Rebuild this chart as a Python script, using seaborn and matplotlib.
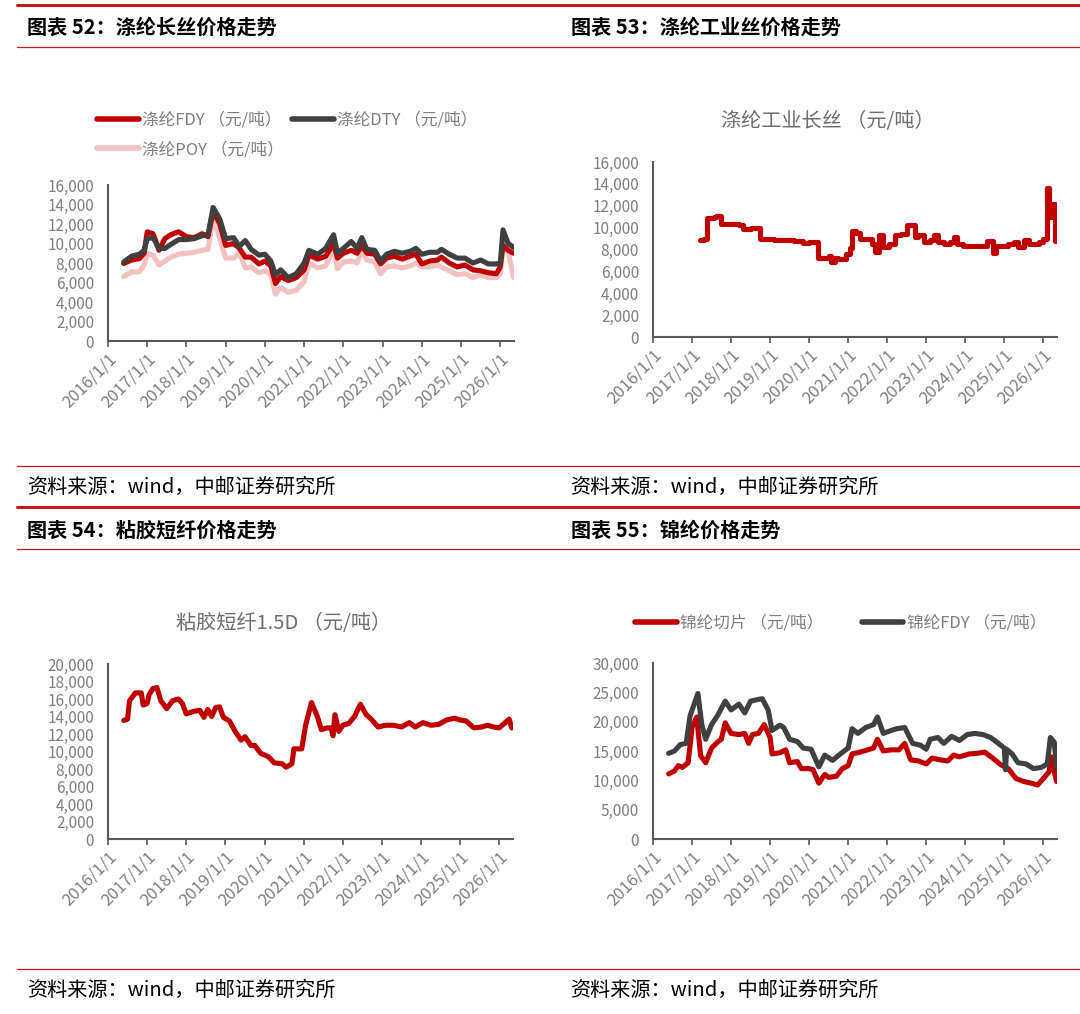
import pandas as pd
import seaborn as sns
import matplotlib.pyplot as plt
from matplotlib.lines import Line2D
from matplotlib.ticker import FuncFormatter, MultipleLocator

sns.set_theme(style="white")
plt.rcParams['font.family'] = ['Noto Sans CJK SC', 'DejaVu Sans']

# ---- data (x in decimal years) ----
years = list(range(2016, 2027))
year_labels = [f"{y}/1/1" for y in years]

x52 = [2016.4, 2016.6, 2016.8, 2016.92, 2017.0, 2017.15, 2017.3, 2017.45, 2017.6, 2017.8,
       2018.0, 2018.2, 2018.4, 2018.55, 2018.68, 2018.85, 2019.0, 2019.2, 2019.35, 2019.5,
       2019.65, 2019.85, 2020.0, 2020.15, 2020.27, 2020.4, 2020.6, 2020.8, 2021.0, 2021.12,
       2021.35, 2021.55, 2021.75, 2021.85, 2022.0, 2022.2, 2022.35, 2022.47, 2022.6, 2022.8,
       2022.95, 2023.1, 2023.3, 2023.5, 2023.7, 2023.85, 2024.0, 2024.2, 2024.4, 2024.5,
       2024.7, 2024.9, 2025.1, 2025.3, 2025.5, 2025.7, 2025.9, 2026.0, 2026.07, 2026.2, 2026.34]
fdy = [7950, 8300, 8450, 9000, 11200, 11000, 9300, 10500, 10900, 11200,
       10700, 10600, 11000, 10700, 13300, 12000, 9800, 10000, 9500, 8600,
       8600, 7900, 8200, 7700, 5900, 6600, 6200, 6500, 7300, 8800,
       8400, 8700, 10000, 8500, 9000, 9300, 9000, 9800, 9000, 8900,
       7900, 8500, 8700, 8400, 8700, 8900, 7900, 8200, 8300, 8600,
       8000, 7600, 7800, 7300, 7200, 7000, 6900, 7600, 9800, 9300, 9000]
dty = [8100, 8700, 8900, 9300, 10500, 10600, 9500, 9500, 9900, 10400,
       10400, 10500, 10800, 10900, 13700, 12500, 10500, 10600, 9700, 10300,
       9400, 8800, 8900, 8200, 6800, 7300, 6500, 6900, 8000, 9300,
       8900, 9500, 10900, 9000, 9500, 10200, 9500, 10600, 9400, 9300,
       8200, 8900, 9200, 9000, 9200, 9500, 8900, 9100, 9100, 9400,
       8900, 8500, 8500, 8000, 8300, 7900, 7900, 8000, 11400, 10000, 9600]
poy = [6600, 7100, 7100, 7800, 9000, 8800, 7800, 8200, 8600, 8900,
       9000, 9100, 9300, 9400, 12600, 10500, 8500, 8500, 9000, 7500,
       7600, 7000, 7200, 6800, 4800, 5500, 5000, 5200, 6100, 8000,
       7500, 7700, 9500, 7400, 8100, 8200, 8000, 9300, 8300, 8100,
       6900, 7600, 7700, 7500, 7700, 8000, 7600, 7600, 7800, 7600,
       7200, 6800, 6900, 6500, 6800, 6500, 6500, 6900, 9500, 9200, 6500]

ind_x = [2017.2, 2017.3, 2017.38, 2017.55, 2017.62, 2017.75, 2018.2, 2018.3, 2018.5, 2018.75,
         2019.1, 2019.6, 2019.85, 2020.0, 2020.22, 2020.5, 2020.55, 2020.65, 2020.75, 2020.95,
         2021.05, 2021.1, 2021.2, 2021.3, 2021.6, 2021.7, 2021.8, 2021.9, 2022.05, 2022.2,
         2022.35, 2022.5, 2022.7, 2022.8, 2022.95, 2023.1, 2023.2, 2023.3, 2023.45, 2023.6,
         2023.7, 2023.8, 2023.95, 2024.55, 2024.7, 2024.8, 2025.1, 2025.25, 2025.35, 2025.5,
         2025.62, 2025.9, 2026.0, 2026.1, 2026.15, 2026.22, 2026.3, 2026.34]
ind_y = [8900, 9000, 10900, 11000, 11100, 10300, 10200, 9900, 10000, 9000,
         8900, 8800, 8600, 8700, 7200, 7400, 6900, 7200, 7100, 7600,
         8100, 9700, 9500, 9000, 8500, 7800, 9300, 8200, 8500, 9300,
         9400, 10200, 9100, 9300, 8700, 8900, 9300, 8700, 8500, 8700,
         9100, 8500, 8300, 8800, 7700, 8300, 8500, 8700, 8200, 8900,
         8500, 8700, 9000, 13600, 11000, 12200, 8800, 8800]

vsf_x = [2016.4, 2016.5, 2016.55, 2016.7, 2016.85, 2016.9, 2017.0, 2017.05, 2017.15, 2017.25,
         2017.35, 2017.5, 2017.65, 2017.8, 2017.9, 2018.0, 2018.2, 2018.35, 2018.45, 2018.55,
         2018.65, 2018.75, 2018.85, 2018.95, 2019.1, 2019.25, 2019.4, 2019.5, 2019.65, 2019.75,
         2019.9, 2020.1, 2020.25, 2020.45, 2020.55, 2020.7, 2020.75, 2020.95, 2021.05, 2021.2,
         2021.35, 2021.45, 2021.6, 2021.7, 2021.75, 2021.8, 2021.9, 2022.0, 2022.15, 2022.3,
         2022.45, 2022.6, 2022.75, 2022.9, 2023.1, 2023.3, 2023.5, 2023.7, 2023.85, 2024.05,
         2024.25, 2024.45, 2024.65, 2024.85, 2025.0, 2025.15, 2025.35, 2025.55, 2025.7, 2025.85,
         2026.0, 2026.15, 2026.25, 2026.32]
vsf_y = [13550, 13700, 15800, 16700, 16700, 15300, 15500, 16500, 17200, 17300,
         15800, 14900, 15800, 16000, 15500, 14300, 14600, 14700, 13900, 14800,
         14000, 15000, 15100, 13900, 13500, 12300, 11300, 11700, 10700, 10700,
         9800, 9400, 8700, 8600, 8200, 8600, 10300, 10300, 13000, 15600,
         14000, 12500, 12700, 12700, 11800, 14200, 12300, 13000, 13200, 14000,
         15400, 14200, 13600, 12800, 13000, 13000, 12800, 13300, 12800, 13300,
         13000, 13100, 13600, 13800, 13600, 13500, 12700, 12800, 13000, 12800,
         12700, 13300, 13700, 12700]

chip_x = [2016.4, 2016.55, 2016.65, 2016.75, 2016.9, 2017.0, 2017.12, 2017.22, 2017.35, 2017.5,
          2017.65, 2017.75, 2017.85, 2018.0, 2018.2, 2018.35, 2018.45, 2018.55, 2018.7, 2018.85,
          2019.0, 2019.05, 2019.25, 2019.4, 2019.5, 2019.7, 2019.8, 2020.0, 2020.1, 2020.25,
          2020.4, 2020.5, 2020.7, 2020.85, 2021.0, 2021.1, 2021.3, 2021.5, 2021.65, 2021.75,
          2021.9, 2022.1, 2022.3, 2022.45, 2022.6, 2022.8, 2023.0, 2023.15, 2023.35, 2023.55,
          2023.7, 2023.85, 2024.1, 2024.3, 2024.5, 2024.7, 2024.9, 2025.1, 2025.3, 2025.5,
          2025.7, 2025.85, 2026.0, 2026.15, 2026.2, 2026.28, 2026.34]
chip_y = [11100, 11600, 12500, 12200, 13000, 19000, 20800, 14200, 13000, 15500,
          16500, 17000, 19800, 18000, 17800, 18000, 16300, 17800, 18000, 19500,
          17300, 14500, 14700, 15200, 13000, 13200, 12000, 12000, 11800, 9500,
          11000, 10500, 10700, 12000, 12500, 14500, 14800, 15200, 15500, 17000,
          15000, 15200, 15200, 16300, 13500, 13300, 12800, 13800, 13500, 13300,
          14300, 14000, 14500, 14600, 14800, 13800, 12700, 12000, 10300, 9800,
          9500, 9200, 10300, 11500, 14000, 11500, 9800]

nfdy_x = [2016.4, 2016.55, 2016.7, 2016.85, 2016.95, 2017.15, 2017.25, 2017.35, 2017.5, 2017.65,
          2017.85, 2018.0, 2018.2, 2018.35, 2018.5, 2018.7, 2018.8, 2018.95, 2019.05, 2019.25,
          2019.35, 2019.5, 2019.7, 2019.85, 2020.05, 2020.25, 2020.4, 2020.6, 2020.8, 2021.0,
          2021.1, 2021.25, 2021.45, 2021.65, 2021.75, 2021.9, 2022.1, 2022.25, 2022.45, 2022.65,
          2022.85, 2023.0, 2023.1, 2023.3, 2023.45, 2023.65, 2023.85, 2024.05, 2024.25, 2024.45,
          2024.65, 2024.85, 2025.0, 2025.03, 2025.06, 2025.2, 2025.35, 2025.55, 2025.75, 2025.95,
          2026.1, 2026.18, 2026.28, 2026.34]
nfdy_y = [14600, 15000, 16100, 16300, 21000, 24800, 19500, 17000, 19500, 21000,
          23500, 22000, 23000, 21500, 23500, 23800, 23900, 22000, 18500, 19400,
          19000, 17000, 16600, 15500, 15300, 12300, 14300, 13400, 14500, 15500,
          18800, 18000, 19000, 19500, 20800, 18000, 18500, 18800, 19000, 16300,
          16000, 15300, 17000, 17300, 16300, 17500, 16800, 17800, 18000, 17800,
          17300, 16300, 15500, 11800, 15300, 14500, 13000, 12800, 12000, 12200,
          12800, 17300, 16500, 12000]

RED = "#C00000"
DARK = "#404040"
PINK = "#F2C2C2"
GRAY = "#7F7F7F"
SPINE = "#595959"
HDR = "#C8161D"
LW = 3.7

W, H = 1080, 1014
fig = plt.figure(figsize=(W / 100, H / 100), dpi=100)


def box(l, t, r, b):
    return [l / W, 1 - b / H, (r - l) / W, (b - t) / H]


def frame(s, x, y):
    return pd.DataFrame({"year": x, "price": y, "series": s})


def style(ax, ymax, ystep):
    ax.set_xlim(2016, 2026.35)
    ax.set_ylim(0, ymax)
    ax.set_xticks(years)
    ax.set_xticklabels(year_labels, rotation=45, ha="right", rotation_mode="anchor",
                       color=GRAY, fontsize=12)
    ax.yaxis.set_major_locator(MultipleLocator(ystep))
    ax.yaxis.set_major_formatter(FuncFormatter(lambda v, p: f"{v:,.0f}"))
    ax.tick_params(axis="x", bottom=True, length=4, width=1.2, color=SPINE, pad=3)
    ax.tick_params(axis="y", left=False, labelcolor=GRAY, labelsize=11, pad=4)
    for s in ["top", "right"]:
        ax.spines[s].set_visible(False)
    for s in ["left", "bottom"]:
        ax.spines[s].set_color(SPINE)
        ax.spines[s].set_linewidth(1.5)
    ax.set_xlabel("")
    ax.set_ylabel("")
    ax.grid(False)
    ax.set_facecolor("none")


def fig_text(x, y, s, **kw):
    fig.text(x / W, 1 - y / H, s, va="center", **kw)


def hline(y, lw):
    fig.add_artist(Line2D([17 / W, 1], [1 - y / H, 1 - y / H], transform=fig.transFigure,
                          color=HDR, lw=lw))


# ---- chart 52 ----
ax1 = fig.add_axes(box(108, 185, 514, 341))
df52 = pd.concat([frame("涤纶POY （元/吨）", x52, poy),
                  frame("涤纶FDY （元/吨）", x52, fdy),
                  frame("涤纶DTY （元/吨）", x52, dty)])
sns.lineplot(data=df52, x="year", y="price", hue="series",
             palette={"涤纶POY （元/吨）": PINK, "涤纶FDY （元/吨）": RED, "涤纶DTY （元/吨）": DARK},
             linewidth=LW, ax=ax1)
style(ax1, 16000, 2000)
h, l = ax1.get_legend_handles_labels()
order = [1, 0, 2]
leg = ax1.legend([h[i] for i in order], [l[i] for i in order], ncol=2,
                 loc="center left", bbox_to_anchor=(97 / W, 1 - 135 / H),
                 bbox_transform=fig.transFigure, frameon=False, fontsize=12,
                 labelcolor=GRAY, handlelength=2.5, handletextpad=0.2,
                 columnspacing=0.5, labelspacing=0.75, borderpad=0, borderaxespad=0)
for hd in leg.legend_handles:
    hd.set_linewidth(4)

# ---- chart 53 ----
ax2 = fig.add_axes(box(653, 162, 1057, 337))
sns.lineplot(x=ind_x, y=ind_y, color=RED, linewidth=LW, drawstyle="steps-post", ax=ax2)
style(ax2, 16000, 2000)
fig_text(828, 122, "涤纶工业长丝 （元/吨）", ha="center", color="#6E6E6E", fontsize=14.5)

# ---- chart 54 ----
ax3 = fig.add_axes(box(108, 664, 513, 839))
sns.lineplot(x=vsf_x, y=vsf_y, color=RED, linewidth=LW, ax=ax3)
style(ax3, 20000, 2000)
fig_text(284, 624, "粘胶短纤1.5D （元/吨）", ha="center", color="#6E6E6E", fontsize=14.5)

# ---- chart 55 ----
ax4 = fig.add_axes(box(653, 663, 1057, 839))
df55 = pd.concat([frame("锦纶切片 （元/吨）", chip_x, chip_y),
                  frame("锦纶FDY （元/吨）", nfdy_x, nfdy_y)])
sns.lineplot(data=df55, x="year", y="price", hue="series",
             palette={"锦纶切片 （元/吨）": RED, "锦纶FDY （元/吨）": DARK},
             linewidth=LW, ax=ax4)
style(ax4, 30000, 5000)
leg = ax4.legend(ncol=2, loc="center left", bbox_to_anchor=(635 / W, 1 - 623 / H),
                 bbox_transform=fig.transFigure, frameon=False, fontsize=12,
                 labelcolor=GRAY, handlelength=2.5, handletextpad=0.2,
                 columnspacing=2.3, borderpad=0, borderaxespad=0)
for hd in leg.legend_handles:
    hd.set_linewidth(4)

# ---- report frame: rules, captions, sources ----
hline(5, 2.2)
hline(47, 0.9)
hline(466, 0.9)
hline(507, 2.2)
hline(549, 0.9)
hline(969, 0.9)

titles = [(27, 27, "图表 52：涤纶长丝价格走势"), (571, 27, "图表 53：涤纶工业丝价格走势"),
          (27, 530, "图表 54：粘胶短纤价格走势"), (571, 530, "图表 55：锦纶价格走势")]
for x, y, s in titles:
    fig_text(x, y, s, ha="left", color="black", fontsize=14.5, fontweight="bold")

for x, y in [(27, 487), (570, 487), (27, 990), (570, 990)]:
    fig_text(x, y, "资料来源：wind，中邮证券研究所", ha="left", color="black", fontsize=14.5)

fig.savefig("out.png", dpi=100)
